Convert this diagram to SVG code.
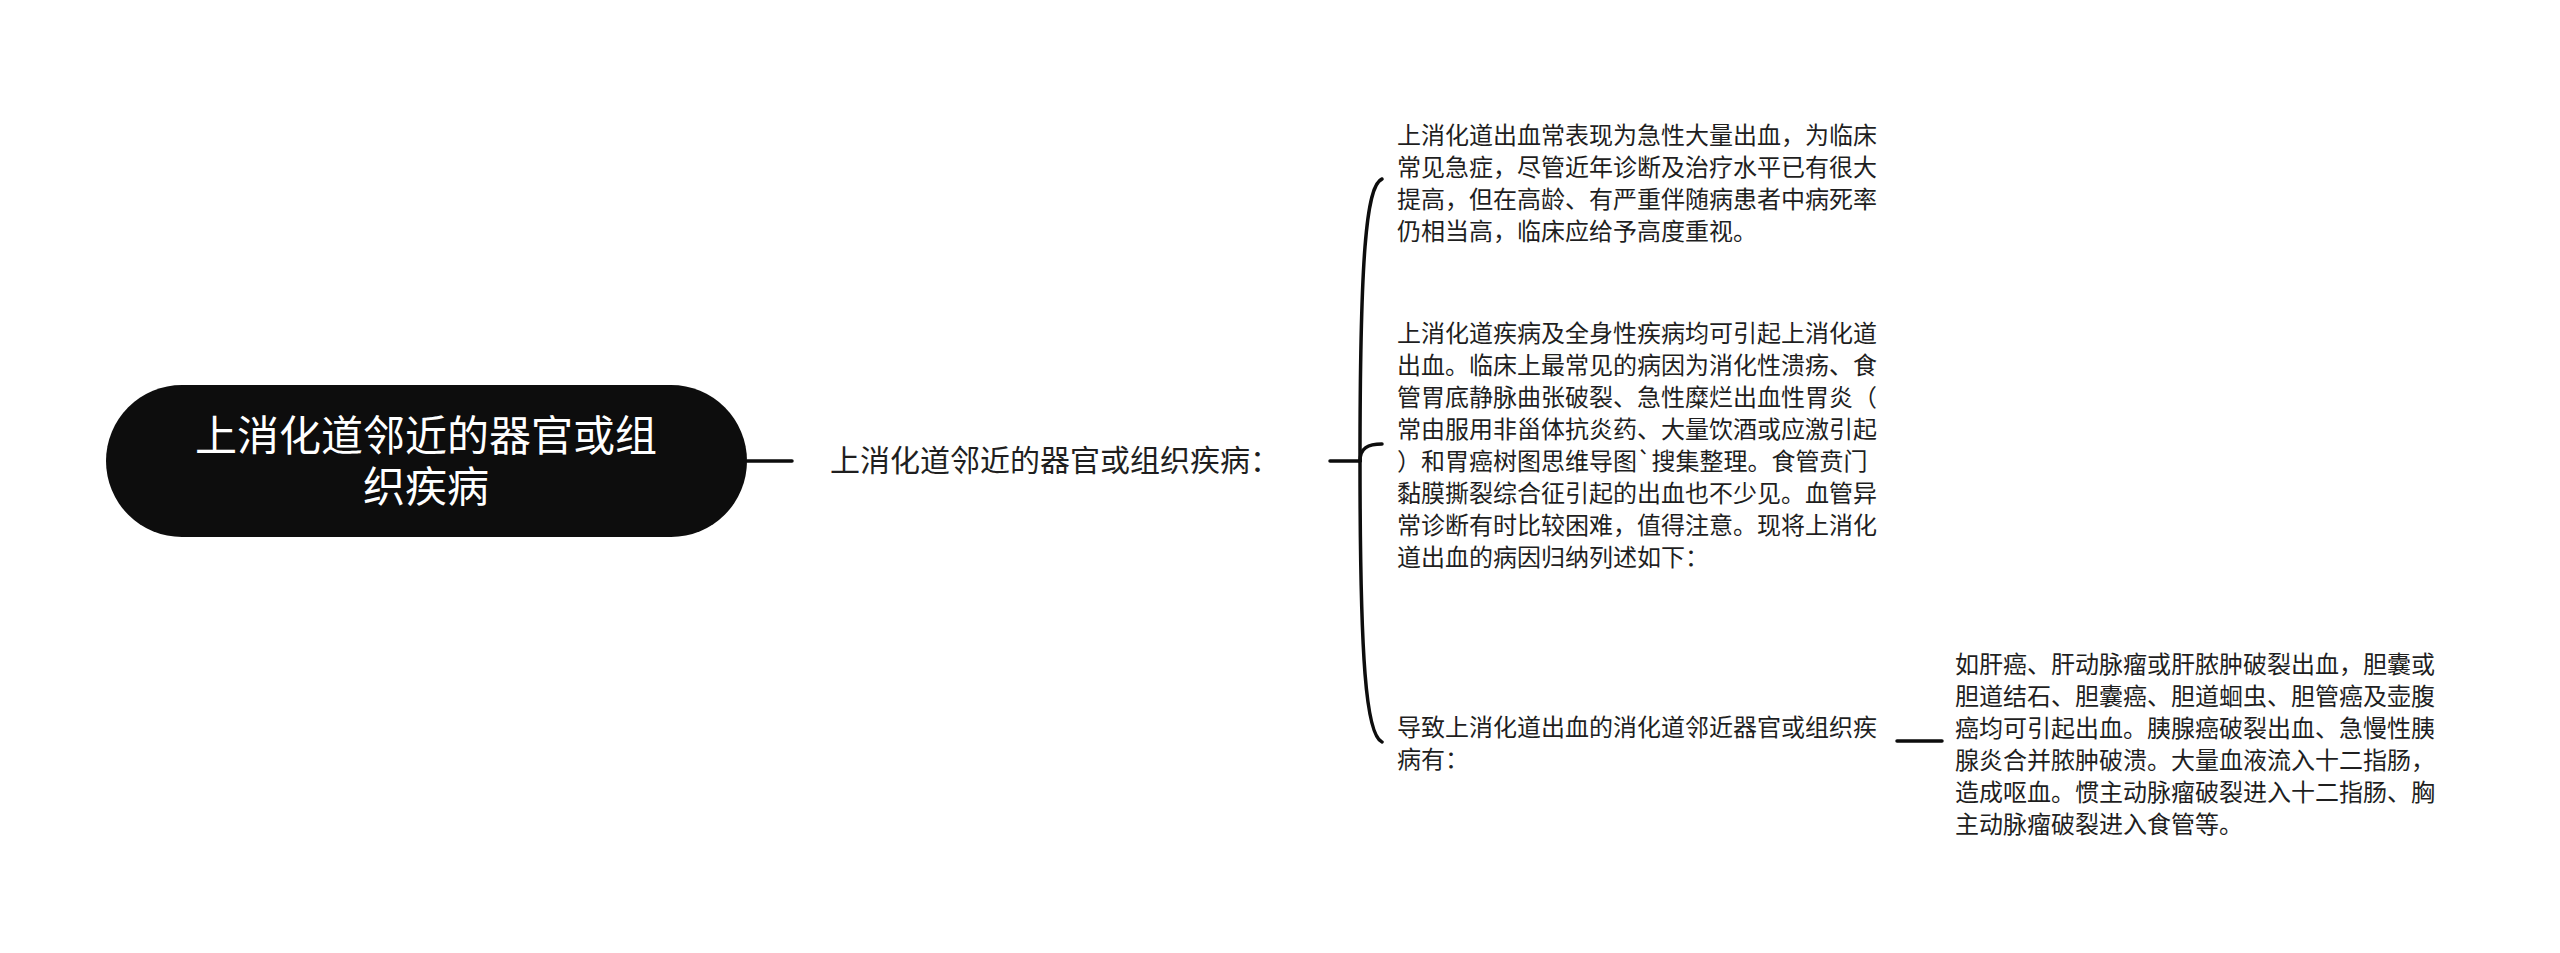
<svg xmlns="http://www.w3.org/2000/svg" width="2560" height="953" viewBox="0 0 2560 953">
<style>
.t{font-family:"Noto Sans CJK SC","Noto Sans",sans-serif;fill:#1f1f1f;font-size:24px}
.sub{font-size:30px}
.root{font-family:"Noto Sans CJK SC","Noto Sans",sans-serif;fill:#ffffff;font-size:42px;text-anchor:middle}
.c{fill:none;stroke:#0d0d0d;stroke-width:3.5;stroke-linecap:round}
</style>
<rect width="2560" height="953" fill="#ffffff"/>
<g id="connectors">
<path class="c" d="M747,461 L792,461"/>
<path class="c" d="M1330,461 L1360,461"/>
<path class="c" d="M1360,461 C1360,260 1366,185 1382,179"/>
<path class="c" d="M1360,461 C1360,448 1368,444 1382,444"/>
<path class="c" d="M1360,461 C1360,660 1366,735 1382,742"/>
<path class="c" d="M1897,741 L1942,741"/>
</g>
<g id="root">
<rect x="106" y="385" width="641" height="152" rx="76" ry="76" fill="#0d0d0d"/>
<text class="root" x="426" y="451">上消化道邻近的器官或组</text>
<text class="root" x="426" y="502">织疾病</text>
</g>
<g id="sub">
<text class="t sub" x="830" y="471">上消化道邻近的器官或组织疾病：</text>
</g>
<g id="leaf1">
<text class="t" x="1397" y="144">上消化道出血常表现为急性大量出血，为临床</text>
<text class="t" x="1397" y="176">常见急症，尽管近年诊断及治疗水平已有很大</text>
<text class="t" x="1397" y="208">提高，但在高龄、有严重伴随病患者中病死率</text>
<text class="t" x="1397" y="240">仍相当高，临床应给予高度重视。</text>
</g>
<g id="leaf2">
<text class="t" x="1397" y="342">上消化道疾病及全身性疾病均可引起上消化道</text>
<text class="t" x="1397" y="374">出血。临床上最常见的病因为消化性溃疡、食</text>
<text class="t" x="1397" y="406">管胃底静脉曲张破裂、急性糜烂出血性胃炎（</text>
<text class="t" x="1397" y="438">常由服用非甾体抗炎药、大量饮酒或应激引起</text>
<text class="t" x="1397" y="470">）和胃癌树图思维导图`搜集整理。食管贲门</text>
<text class="t" x="1397" y="502">黏膜撕裂综合征引起的出血也不少见。血管异</text>
<text class="t" x="1397" y="534">常诊断有时比较困难，值得注意。现将上消化</text>
<text class="t" x="1397" y="566">道出血的病因归纳列述如下：</text>
</g>
<g id="leaf3">
<text class="t" x="1397" y="736">导致上消化道出血的消化道邻近器官或组织疾</text>
<text class="t" x="1397" y="768">病有：</text>
</g>
<g id="leaf4">
<text class="t" x="1955" y="673">如肝癌、肝动脉瘤或肝脓肿破裂出血，胆囊或</text>
<text class="t" x="1955" y="705">胆道结石、胆囊癌、胆道蛔虫、胆管癌及壶腹</text>
<text class="t" x="1955" y="737">癌均可引起出血。胰腺癌破裂出血、急慢性胰</text>
<text class="t" x="1955" y="769">腺炎合并脓肿破溃。大量血液流入十二指肠，</text>
<text class="t" x="1955" y="801">造成呕血。惯主动脉瘤破裂进入十二指肠、胸</text>
<text class="t" x="1955" y="833">主动脉瘤破裂进入食管等。</text>
</g>
</svg>
